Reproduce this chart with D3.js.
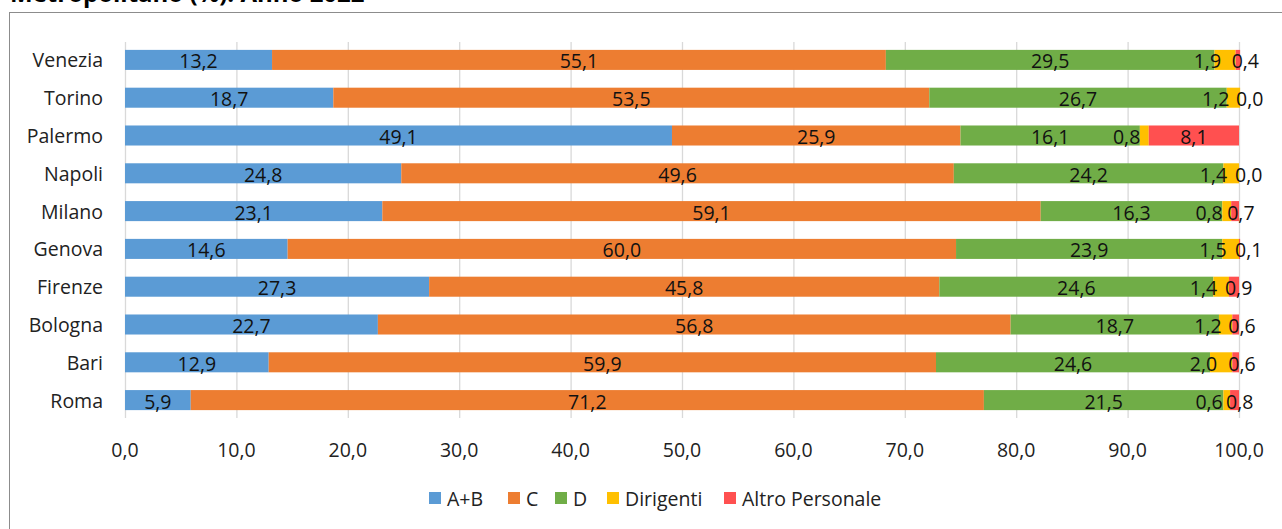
<!DOCTYPE html>
<html>
<head>
<meta charset="utf-8">
<script src="https://cdn.jsdelivr.net/npm/d3@7"></script>
<style>
	body { margin: 0; background: #fff; }
	svg { display: block; font-family: "Open Sans", sans-serif; }
</style>
</head>
<body>
<svg id="chart" width="1282" height="529"></svg>
<script>
// città, dall'alto verso il basso
var cities = ['Venezia', 'Torino', 'Palermo', 'Napoli', 'Milano', 'Genova', 'Firenze', 'Bologna', 'Bari', 'Roma'];
var seriesNames = ['A+B', 'C', 'D', 'Dirigenti', 'Altro Personale'];
var colors = ['#5B9BD5', '#ED7D31', '#70AD47', '#FFC000', '#FF5050'];

var valAB = [13.2, 18.7, 49.1, 24.8, 23.1, 14.6, 27.3, 22.7, 12.9, 5.9];
var valC = [55.1, 53.5, 25.9, 49.6, 59.1, 60.0, 45.8, 56.8, 59.9, 71.2];
var valD = [29.5, 26.7, 16.1, 24.2, 16.3, 23.9, 24.6, 18.7, 24.6, 21.5];
var valDirigenti = [1.9, 1.2, 0.8, 1.4, 0.8, 1.5, 1.4, 1.2, 2.0, 0.6];
var valAltro = [0.4, 0.0, 8.1, 0.0, 0.7, 0.1, 0.9, 0.6, 0.6, 0.8];

var xTicks = [0, 10, 20, 30, 40, 50, 60, 70, 80, 90, 100];

(function () {
	var svg = d3.select('#chart');
	var fs = 19.5;
	var fmt = function (v) { return d3.format('.1f')(v).replace('.', ','); };

	var x = d3.scaleLinear().domain([0, 100]).range([125, 1239]);
	var y = d3.scaleBand().domain(cities).range([41, 419])
		.paddingInner(0.47).paddingOuter(0.235);

	// cornice del grafico (taglia fuori il bordo destro e inferiore)
	svg.append('rect')
		.attr('x', 9.5).attr('y', 12.5)
		.attr('width', 1300).attr('height', 560)
		.attr('fill', 'none').attr('stroke', '#8c8c8c').attr('stroke-width', 1);

	// titolo tagliato in alto
	svg.append('text')
		.attr('x', 10).attr('y', 1.5)
		.attr('font-size', 24).attr('font-weight', 'bold')
		.attr('fill', '#000')
		.text('Metropolitano (%). Anno 2022');

	// griglia verticale
	svg.append('g').selectAll('line')
		.data(xTicks)
		.enter().append('line')
		.attr('x1', function (d) { return x(d) + 0.5; })
		.attr('x2', function (d) { return x(d) + 0.5; })
		.attr('y1', 42).attr('y2', 418)
		.attr('stroke', '#d9d9d9').attr('stroke-width', 1.3);

	// etichette asse x
	svg.append('g').selectAll('text')
		.data(xTicks)
		.enter().append('text')
		.attr('x', function (d) { return x(d); })
		.attr('y', 449)
		.attr('text-anchor', 'middle')
		.attr('dominant-baseline', 'central')
		.attr('font-size', fs).attr('fill', '#222')
		.text(fmt);

	// etichette città
	svg.append('g').selectAll('text')
		.data(cities)
		.enter().append('text')
		.attr('x', 103)
		.attr('y', function (d) { return y(d) + y.bandwidth() / 2; })
		.attr('text-anchor', 'end')
		.attr('dominant-baseline', 'central')
		.attr('font-size', fs).attr('fill', '#222')
		.text(function (d) { return d; });

	// dati impilati
	var rows = cities.map(function (c, i) {
		return { city: c, vals: [valAB[i], valC[i], valD[i], valDirigenti[i], valAltro[i]] };
	});
	var segs = [];
	rows.forEach(function (r) {
		var acc = 0;
		r.vals.forEach(function (v, k) {
			segs.push({ city: r.city, k: k, v: v, x0: acc, x1: acc + v });
			acc += v;
		});
	});

	svg.append('g').selectAll('rect')
		.data(segs)
		.enter().append('rect')
		.attr('x', function (d) { return x(d.x0); })
		.attr('y', function (d) { return y(d.city); })
		.attr('width', function (d) { return Math.max(0, x(d.x1) - x(d.x0)); })
		.attr('height', y.bandwidth())
		.attr('fill', function (d) { return colors[d.k]; });

	// etichette dei valori
	svg.append('g').selectAll('text')
		.data(segs)
		.enter().append('text')
		.attr('x', function (d) {
			if (d.k < 3 || (d.k === 4 && d.v >= 2)) return x((d.x0 + d.x1) / 2);
			if (d.k === 3) return x((d.x0 + d.x1) / 2) - 4;
			return x(d.x0) - 4;
		})
		.attr('y', function (d) { return y(d.city) + y.bandwidth() / 2 + 1; })
		.attr('text-anchor', function (d) {
			if (d.k < 3 || (d.k === 4 && d.v >= 2)) return 'middle';
			return d.k === 3 ? 'end' : 'start';
		})
		.attr('dominant-baseline', 'central')
		.attr('font-size', fs).attr('fill', '#111')
		.text(function (d) { return fmt(d.v); });

	// legenda
	var legendX = [429, 508, 555, 607, 724];
	var legend = svg.append('g').selectAll('g')
		.data(seriesNames)
		.enter().append('g')
		.attr('transform', function (d, i) { return 'translate(' + legendX[i] + ',498)'; });
	legend.append('rect')
		.attr('x', 0).attr('y', -6)
		.attr('width', 12).attr('height', 12)
		.attr('fill', function (d, i) { return colors[i]; });
	legend.append('text')
		.attr('x', 18).attr('y', 0)
		.attr('dominant-baseline', 'central')
		.attr('font-size', fs).attr('fill', '#222')
		.text(function (d) { return d; });
}());
</script>
</body>
</html>
